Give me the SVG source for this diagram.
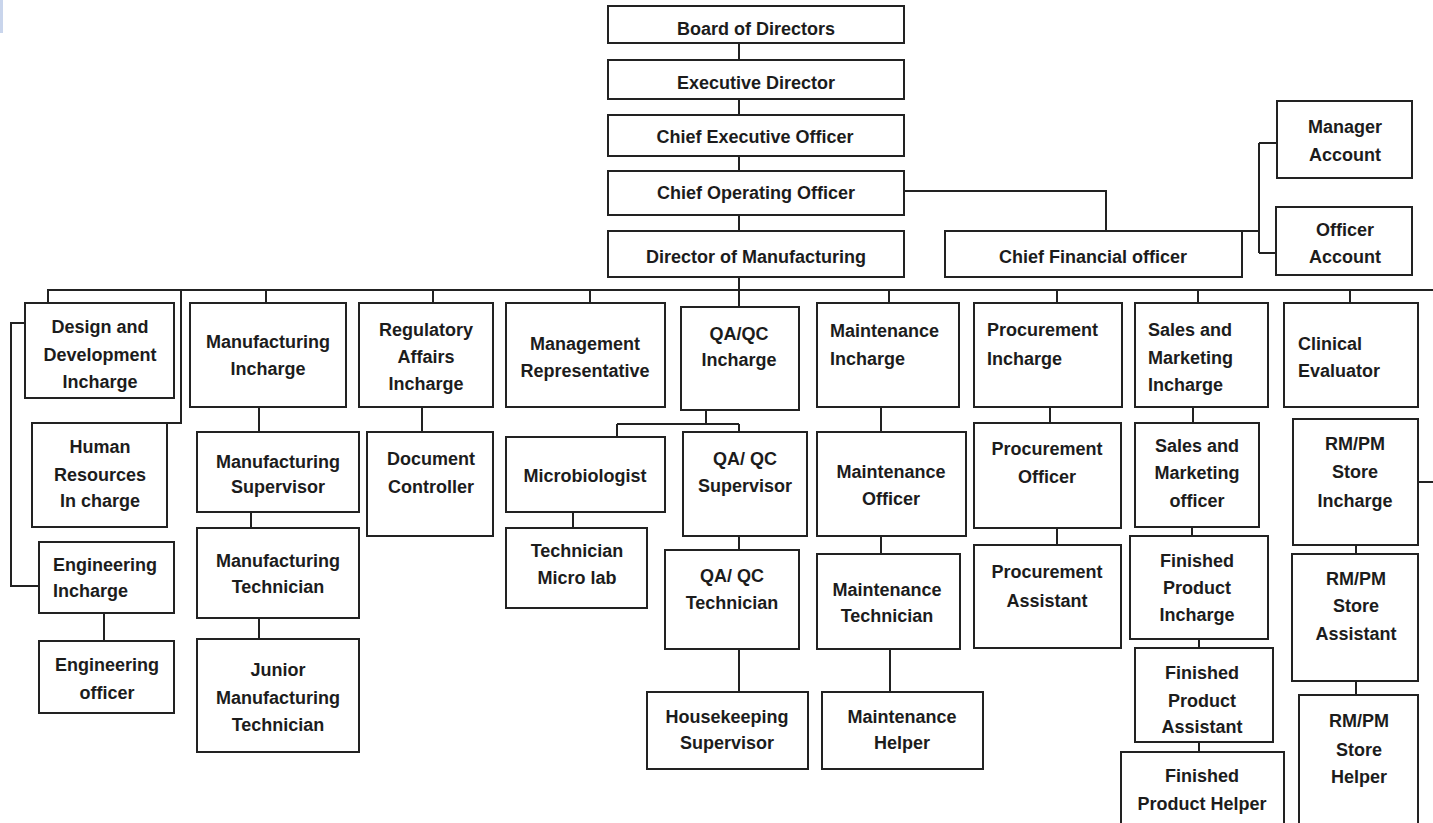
<svg xmlns="http://www.w3.org/2000/svg" width="1433" height="823" viewBox="0 0 1433 823">
<style>
rect.b{fill:#fff;stroke:#222;stroke-width:2}
text{font-family:"Liberation Sans",Arial,sans-serif;font-weight:bold;font-size:18px;fill:#1c1c1c}
text.c{text-anchor:middle}
#connectors path{fill:none;stroke:#222;stroke-width:2}
</style>
<rect x="0" y="0" width="1433" height="823" fill="#fff"/>
<rect x="0" y="0" width="3" height="33" fill="#c9d5ec"/>
<g id="connectors">
<path d="M739 43V60M739 99V115M739 156V171M739 215V231M739 277V307"/>
<path d="M904 191H1106V231"/>
<path d="M1242 231H1259M1259 143V253M1259 143H1277M1259 253H1276"/>
<path d="M48 303V290H1433"/>
<path d="M181 290V423H167"/>
<path d="M25 323H11V586H39"/>
<path d="M104 613V641"/>
<path d="M266 290V303M259 407V432M251 512V528M259 618V639"/>
<path d="M433 290V303M422 407V432"/>
<path d="M590 290V303"/>
<path d="M706 410V424M617 424H739M617 424V437M739 424V432M573 512V528M739 536V550M739 649V692"/>
<path d="M889 290V303M881 407V432M881 536V554M890 649V692"/>
<path d="M1057 290V303M1050 407V423M1057 528V545"/>
<path d="M1198 290V303M1193 407V423M1192 527V536M1199 639V648M1199 742V752"/>
<path d="M1350 290V303M1356 545V554M1356 681V695M1418 482H1433"/>
</g>
<g id="board"><rect class="b" x="608" y="6" width="296" height="37"/><text class="c" x="756" y="35">Board of Directors</text></g>
<g id="exec"><rect class="b" x="608" y="60" width="296" height="39"/><text class="c" x="756" y="89">Executive Director</text></g>
<g id="ceo"><rect class="b" x="608" y="115" width="296" height="41"/><text class="c" x="755" y="143">Chief Executive Officer</text></g>
<g id="coo"><rect class="b" x="608" y="171" width="296" height="44"/><text class="c" x="756" y="199">Chief Operating Officer</text></g>
<g id="dom"><rect class="b" x="608" y="231" width="296" height="46"/><text class="c" x="756" y="263">Director of Manufacturing</text></g>
<g id="cfo"><rect class="b" x="945" y="231" width="297" height="46"/><text class="c" x="1093" y="263">Chief Financial officer</text></g>
<g id="mgracc"><rect class="b" x="1277" y="101" width="135" height="77"/><text class="c" x="1345" y="133">Manager</text><text class="c" x="1345" y="161">Account</text></g>
<g id="offacc"><rect class="b" x="1276" y="207" width="136" height="68"/><text class="c" x="1345" y="236">Officer</text><text class="c" x="1345" y="263">Account</text></g>

<g id="design"><rect class="b" x="25" y="303" width="149" height="95"/><text class="c" x="100" y="333">Design and</text><text class="c" x="100" y="361">Development</text><text class="c" x="100" y="388">Incharge</text></g>
<g id="hr"><rect class="b" x="32" y="423" width="135" height="104"/><text class="c" x="100" y="453">Human</text><text class="c" x="100" y="481">Resources</text><text class="c" x="100" y="507">In charge</text></g>
<g id="enginc"><rect class="b" x="39" y="542" width="135" height="71"/><text x="53" y="571">Engineering</text><text x="53" y="597">Incharge</text></g>
<g id="engoff"><rect class="b" x="39" y="641" width="135" height="72"/><text class="c" x="107" y="671">Engineering</text><text class="c" x="107" y="699">officer</text></g>

<g id="mfginc"><rect class="b" x="190" y="303" width="156" height="104"/><text class="c" x="268" y="348">Manufacturing</text><text class="c" x="268" y="375">Incharge</text></g>
<g id="mfgsup"><rect class="b" x="197" y="432" width="162" height="80"/><text class="c" x="278" y="468">Manufacturing</text><text class="c" x="278" y="493">Supervisor</text></g>
<g id="mfgtech"><rect class="b" x="197" y="528" width="162" height="90"/><text class="c" x="278" y="567">Manufacturing</text><text class="c" x="278" y="593">Technician</text></g>
<g id="jrmfg"><rect class="b" x="197" y="639" width="162" height="113"/><text class="c" x="278" y="676">Junior</text><text class="c" x="278" y="704">Manufacturing</text><text class="c" x="278" y="731">Technician</text></g>

<g id="reg"><rect class="b" x="359" y="303" width="134" height="104"/><text class="c" x="426" y="336">Regulatory</text><text class="c" x="426" y="363">Affairs</text><text class="c" x="426" y="390">Incharge</text></g>
<g id="doc"><rect class="b" x="367" y="432" width="126" height="104"/><text class="c" x="431" y="465">Document</text><text class="c" x="431" y="493">Controller</text></g>

<g id="mgmt"><rect class="b" x="506" y="303" width="159" height="104"/><text class="c" x="585" y="350">Management</text><text class="c" x="585" y="377">Representative</text></g>
<g id="micro"><rect class="b" x="506" y="437" width="159" height="75"/><text class="c" x="585" y="482">Microbiologist</text></g>
<g id="techmicro"><rect class="b" x="506" y="528" width="141" height="80"/><text class="c" x="577" y="557">Technician</text><text class="c" x="577" y="584">Micro lab</text></g>

<g id="qainc"><rect class="b" x="681" y="307" width="118" height="103"/><text class="c" x="739" y="340">QA/QC</text><text class="c" x="739" y="366">Incharge</text></g>
<g id="qasup"><rect class="b" x="683" y="432" width="124" height="104"/><text class="c" x="745" y="465">QA/ QC</text><text class="c" x="745" y="492">Supervisor</text></g>
<g id="qatech"><rect class="b" x="665" y="550" width="134" height="99"/><text class="c" x="732" y="582">QA/ QC</text><text class="c" x="732" y="609">Technician</text></g>
<g id="house"><rect class="b" x="647" y="692" width="161" height="77"/><text class="c" x="727" y="723">Housekeeping</text><text class="c" x="727" y="749">Supervisor</text></g>

<g id="mntinc"><rect class="b" x="817" y="303" width="142" height="104"/><text x="830" y="337">Maintenance</text><text x="830" y="365">Incharge</text></g>
<g id="mntoff"><rect class="b" x="817" y="432" width="149" height="104"/><text class="c" x="891" y="478">Maintenance</text><text class="c" x="891" y="505">Officer</text></g>
<g id="mnttech"><rect class="b" x="817" y="554" width="143" height="95"/><text class="c" x="887" y="596">Maintenance</text><text class="c" x="887" y="622">Technician</text></g>
<g id="mnthelp"><rect class="b" x="822" y="692" width="161" height="77"/><text class="c" x="902" y="723">Maintenance</text><text class="c" x="902" y="749">Helper</text></g>

<g id="procinc"><rect class="b" x="974" y="303" width="148" height="104"/><text x="987" y="336">Procurement</text><text x="987" y="365">Incharge</text></g>
<g id="procoff"><rect class="b" x="974" y="423" width="147" height="105"/><text class="c" x="1047" y="455">Procurement</text><text class="c" x="1047" y="483">Officer</text></g>
<g id="procass"><rect class="b" x="974" y="545" width="147" height="103"/><text class="c" x="1047" y="578">Procurement</text><text class="c" x="1047" y="607">Assistant</text></g>

<g id="salesinc"><rect class="b" x="1135" y="303" width="133" height="104"/><text x="1148" y="336">Sales and</text><text x="1148" y="364">Marketing</text><text x="1148" y="391">Incharge</text></g>
<g id="salesoff"><rect class="b" x="1135" y="423" width="124" height="104"/><text class="c" x="1197" y="452">Sales and</text><text class="c" x="1197" y="479">Marketing</text><text class="c" x="1197" y="507">officer</text></g>
<g id="fpinc"><rect class="b" x="1130" y="536" width="138" height="103"/><text class="c" x="1197" y="567">Finished</text><text class="c" x="1197" y="594">Product</text><text class="c" x="1197" y="621">Incharge</text></g>
<g id="fpass"><rect class="b" x="1135" y="648" width="138" height="94"/><text class="c" x="1202" y="679">Finished</text><text class="c" x="1202" y="707">Product</text><text class="c" x="1202" y="733">Assistant</text></g>
<g id="fphelp"><rect class="b" x="1121" y="752" width="163" height="80"/><text class="c" x="1202" y="782">Finished</text><text class="c" x="1202" y="810">Product Helper</text></g>

<g id="clin"><rect class="b" x="1284" y="303" width="134" height="104"/><text x="1298" y="350">Clinical</text><text x="1298" y="377">Evaluator</text></g>
<g id="rminc"><rect class="b" x="1293" y="419" width="125" height="126"/><text class="c" x="1355" y="450">RM/PM</text><text class="c" x="1355" y="478">Store</text><text class="c" x="1355" y="507">Incharge</text></g>
<g id="rmass"><rect class="b" x="1292" y="554" width="126" height="127"/><text class="c" x="1356" y="585">RM/PM</text><text class="c" x="1356" y="612">Store</text><text class="c" x="1356" y="640">Assistant</text></g>
<g id="rmhelp"><rect class="b" x="1299" y="695" width="119" height="135"/><text class="c" x="1359" y="727">RM/PM</text><text class="c" x="1359" y="756">Store</text><text class="c" x="1359" y="783">Helper</text></g>
</svg>
